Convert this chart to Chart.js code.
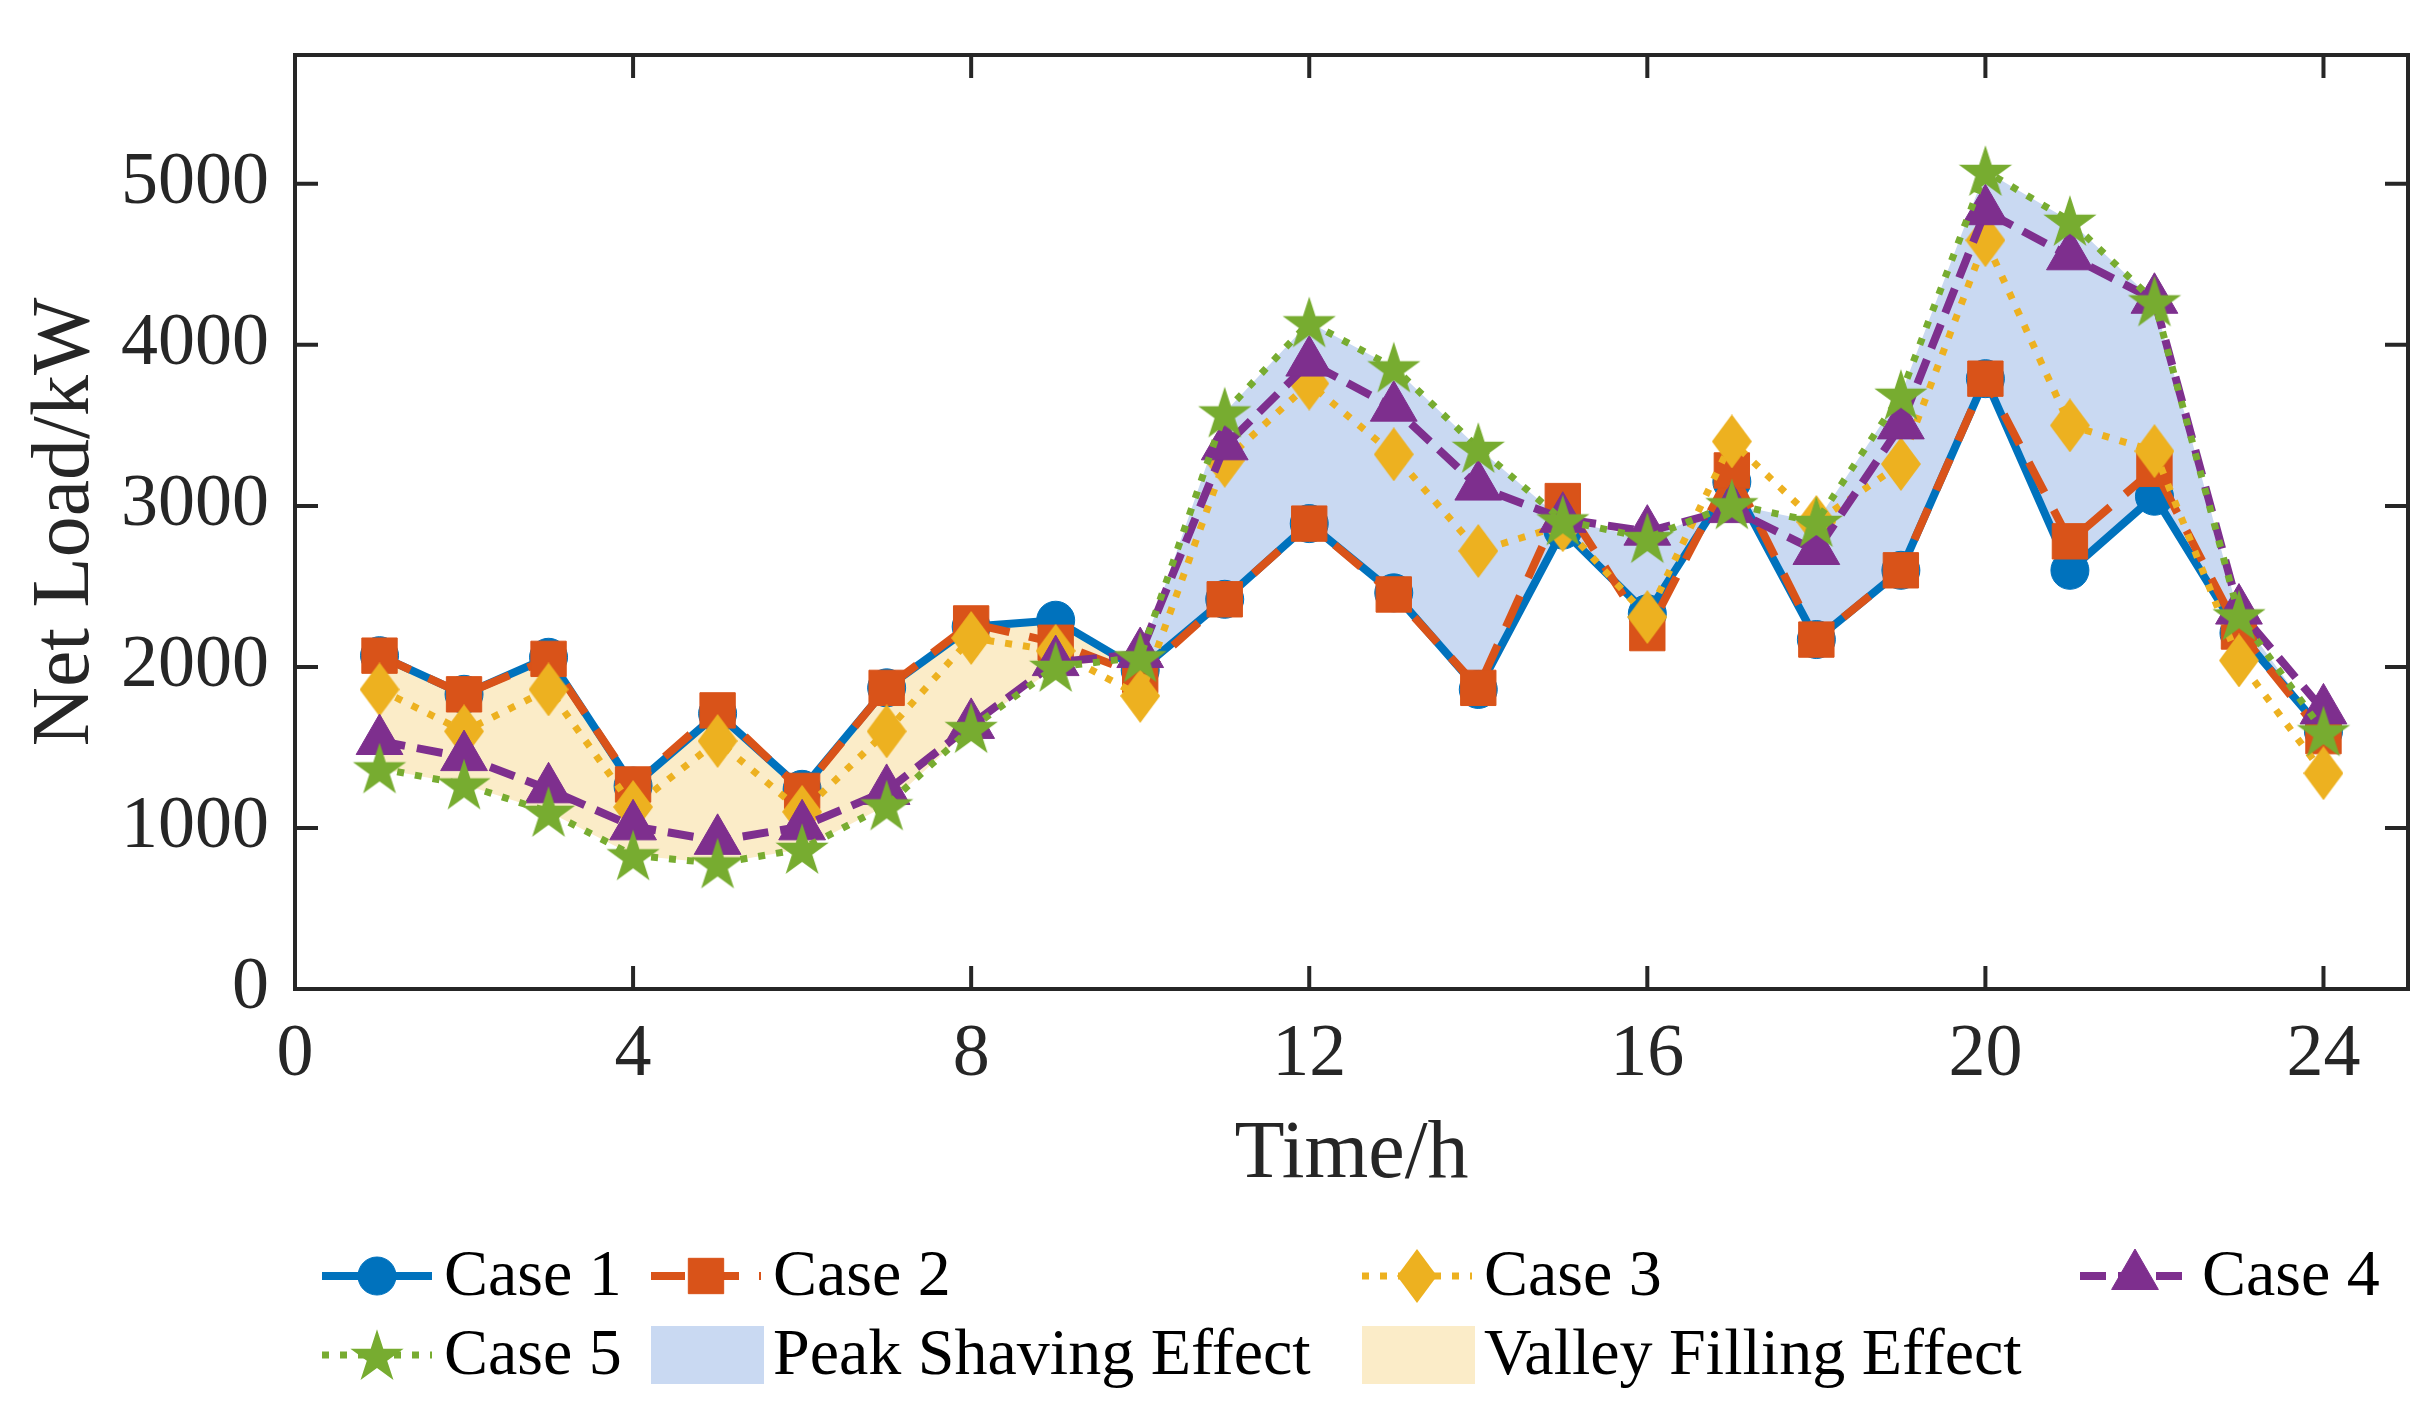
<!DOCTYPE html>
<html>
<head>
<meta charset="utf-8">
<script src="https://cdn.jsdelivr.net/npm/chart.js@4.4.0/dist/chart.umd.min.js"></script>
<style>
  html, body { margin: 0; padding: 0; background: #fff; }
  canvas { display: block; }
</style>
</head>
<body>
<canvas id="net-load" width="2436" height="1424"></canvas>
<script>
// values, hour by hour
const hours = [1, 2, 3, 4, 5, 6, 7, 8, 9, 10, 11, 12, 13, 14, 15, 16, 17, 18, 19, 20, 21, 22, 23, 24]
const case1 = [2070, 1830, 2060, 1260, 1710, 1240, 1870, 2250, 2290, 1980, 2420, 2890, 2460, 1860, 2850, 2330, 3150, 2170, 2600, 3790, 2600, 3060, 2210, 1600]
const case2 = [2070, 1830, 2050, 1270, 1730, 1230, 1870, 2270, 2150, 1950, 2420, 2890, 2450, 1870, 3030, 2210, 3220, 2170, 2600, 3790, 2780, 3230, 2220, 1570]
const case3 = [1860, 1600, 1860, 1130, 1540, 1100, 1600, 2180, 2100, 1820, 3280, 3760, 3320, 2720, 2880, 2310, 3400, 2900, 3260, 4650, 3500, 3340, 2040, 1340]
const case4 = [1540, 1440, 1240, 1010, 920, 1010, 1230, 1640, 2030, 2080, 3370, 3890, 3610, 3120, 2920, 2840, 2980, 2720, 3500, 4830, 4550, 4280, 2350, 1730]
const case5 = [1370, 1270, 1100, 830, 780, 870, 1140, 1620, 2000, 2060, 3580, 4140, 3860, 3360, 2910, 2800, 3010, 2900, 3690, 5080, 4770, 4270, 2320, 1600]

const xTicks = [0, 4, 8, 12, 16, 20, 24]
const yTicks = [0, 1000, 2000, 3000, 4000, 5000]
const seriesNames = ['Case 1', 'Case 2', 'Case 3', 'Case 4', 'Case 5']
const areaNames = ['Peak Shaving Effect', 'Valley Filling Effect']

const FONT = "'Liberation Serif', 'Times New Roman', serif"
const INK = '#262626'
const BLUE = '#0072bd'
const ORANGE = '#d95319'
const YELLOW = '#edb120'
const PURPLE = '#7e2f8e'
const GREEN = '#77ac30'
const PEAK_FILL = '#c9d9f2'
const VALLEY_FILL = '#fbecc8'

// MATLAB style narrow diamond and filled pentagram
function makeDiamond(w, h, color) {
  const c = document.createElement('canvas')
  c.width = w
  c.height = h
  const g = c.getContext('2d')
  g.fillStyle = color
  g.beginPath()
  g.moveTo(w / 2, 0)
  g.lineTo(w, h / 2)
  g.lineTo(w / 2, h)
  g.lineTo(0, h / 2)
  g.closePath()
  g.fill()
  return c
}

function makeStar(size, color) {
  const c = document.createElement('canvas')
  c.width = size
  c.height = size
  const g = c.getContext('2d')
  const cx = size / 2
  const cy = size / 2 + size * 0.04
  const ro = size / 2 - 1
  const ri = ro * 0.382
  g.fillStyle = color
  g.beginPath()
  for (let i = 0; i < 10; i++) {
    const r = i % 2 === 0 ? ro : ri
    const a = -Math.PI / 2 + i * Math.PI / 5
    const px = cx + r * Math.cos(a)
    const py = cy + r * Math.sin(a)
    if (i === 0) g.moveTo(px, py)
    else g.lineTo(px, py)
  }
  g.closePath()
  g.fill()
  return c
}

const diamond = makeDiamond(40, 54, YELLOW)
const star = makeStar(58, GREEN)

function series(label, data, color, width, dash, style, radius, order) {
  return {
    label,
    data: hours.map((h, i) => ({ x: h, y: data[i] })),
    borderColor: color,
    backgroundColor: color,
    borderWidth: width,
    borderDash: dash,
    borderCapStyle: 'butt',
    borderJoinStyle: 'miter',
    pointStyle: style,
    pointRadius: radius,
    pointBackgroundColor: color,
    pointBorderColor: color,
    pointBorderWidth: 1,
    tension: 0,
    fill: false,
    order,
  }
}

const datasets = [
  series(seriesNames[0], case1, BLUE, 8, [], 'circle', 19, 5),
  series(seriesNames[1], case2, ORANGE, 8, [34, 20], 'rect', 25, 4),
  series(seriesNames[2], case3, YELLOW, 7, [7, 11], diamond, 22, 3),
  series(seriesNames[3], case4, PURPLE, 8, [26, 12], 'triangle', 27, 2),
  series(seriesNames[4], case5, GREEN, 7, [7, 11], star, 26, 1),
]
// shaded band between Case 5 and Case 1
datasets[4].fill = { target: 0, above: PEAK_FILL, below: VALLEY_FILL }

const boxPlugin = {
  id: 'box',
  afterDatasetsDraw(chart) {
    const { ctx, chartArea: a, scales } = chart
    const tick = 23
    ctx.save()
    ctx.strokeStyle = INK
    ctx.lineWidth = 4
    ctx.beginPath()
    xTicks.forEach(v => {
      const px = scales.x.getPixelForValue(v)
      ctx.moveTo(px, a.bottom)
      ctx.lineTo(px, a.bottom - tick)
      ctx.moveTo(px, a.top)
      ctx.lineTo(px, a.top + tick)
    })
    yTicks.forEach(v => {
      const py = scales.y.getPixelForValue(v)
      ctx.moveTo(a.left, py)
      ctx.lineTo(a.left + tick, py)
      ctx.moveTo(a.right, py)
      ctx.lineTo(a.right - tick, py)
    })
    ctx.stroke()
    ctx.strokeRect(a.left, a.top, a.right - a.left, a.bottom - a.top)
    ctx.restore()
  },
}

const legendPlugin = {
  id: 'matlabLegend',
  afterDraw(chart) {
    const { ctx } = chart
    const cols = [322, 651, 1362, 2080]
    const rows = [1276, 1355]
    const sample = 110
    const textGap = 122
    const items = chart.data.datasets.map(ds => ({ kind: 'line', ds, text: ds.label }))
    items.push({ kind: 'patch', color: PEAK_FILL, text: areaNames[0] })
    items.push({ kind: 'patch', color: VALLEY_FILL, text: areaNames[1] })

    ctx.save()
    ctx.font = `66px ${FONT}`
    ctx.textBaseline = 'middle'
    ctx.textAlign = 'left'
    items.forEach((it, i) => {
      const x = cols[i % 4]
      const y = rows[Math.floor(i / 4)]
      if (it.kind === 'line') {
        const ds = it.ds
        ctx.save()
        ctx.strokeStyle = ds.borderColor
        ctx.lineWidth = ds.borderWidth
        ctx.lineCap = 'butt'
        ctx.setLineDash(ds.borderDash)
        ctx.beginPath()
        ctx.moveTo(x, y)
        ctx.lineTo(x + sample, y)
        ctx.stroke()
        ctx.restore()
        ctx.save()
        ctx.fillStyle = ds.pointBackgroundColor
        ctx.strokeStyle = ds.pointBorderColor
        Chart.helpers.drawPoint(ctx, {
          pointStyle: ds.pointStyle,
          radius: ds.pointRadius,
          rotation: 0,
          borderWidth: ds.pointBorderWidth,
        }, x + sample / 2, y)
        ctx.restore()
      } else {
        ctx.fillStyle = it.color
        ctx.fillRect(x, y - 29, 113, 58)
      }
      ctx.fillStyle = '#000'
      ctx.fillText(it.text, x + textGap, y + 2)
    })
    ctx.restore()
  },
}

new Chart(document.getElementById('net-load'), {
  type: 'line',
  data: { datasets },
  plugins: [boxPlugin, legendPlugin],
  options: {
    responsive: false,
    devicePixelRatio: 1,
    animation: false,
    events: [],
    layout: { padding: { top: 55, right: 27, bottom: 219, left: 0 } },
    plugins: {
      legend: { display: false },
      tooltip: { enabled: false },
      filler: { drawTime: 'beforeDatasetsDraw', propagate: false },
    },
    scales: {
      x: {
        type: 'linear',
        min: 0,
        max: 25,
        afterBuildTicks: s => { s.ticks = xTicks.map(v => ({ value: v })) },
        afterFit: s => {
          s.height = 216
          s.paddingLeft = 0
          s.paddingRight = 0
        },
        grid: { display: false, drawTicks: false },
        border: { display: false },
        ticks: {
          color: INK,
          padding: 22,
          maxRotation: 0,
          font: { family: FONT, size: 74 },
          callback: v => String(v),
        },
        title: {
          display: true,
          text: 'Time/h',
          color: INK,
          padding: { top: 14, bottom: 0 },
          font: { family: FONT, size: 82 },
        },
      },
      y: {
        type: 'linear',
        min: 0,
        max: 5800,
        afterBuildTicks: s => { s.ticks = yTicks.map(v => ({ value: v })) },
        afterFit: s => {
          s.width = 295
          s.paddingTop = 0
          s.paddingBottom = 0
        },
        grid: { display: false, drawTicks: false },
        border: { display: false },
        ticks: {
          color: INK,
          padding: 26,
          font: { family: FONT, size: 74 },
          callback: v => String(v),
        },
        title: {
          display: true,
          text: 'Net Load/kW',
          color: INK,
          padding: { top: 17, bottom: 0 },
          font: { family: FONT, size: 82 },
        },
      },
    },
  },
})
</script>
</body>
</html>
